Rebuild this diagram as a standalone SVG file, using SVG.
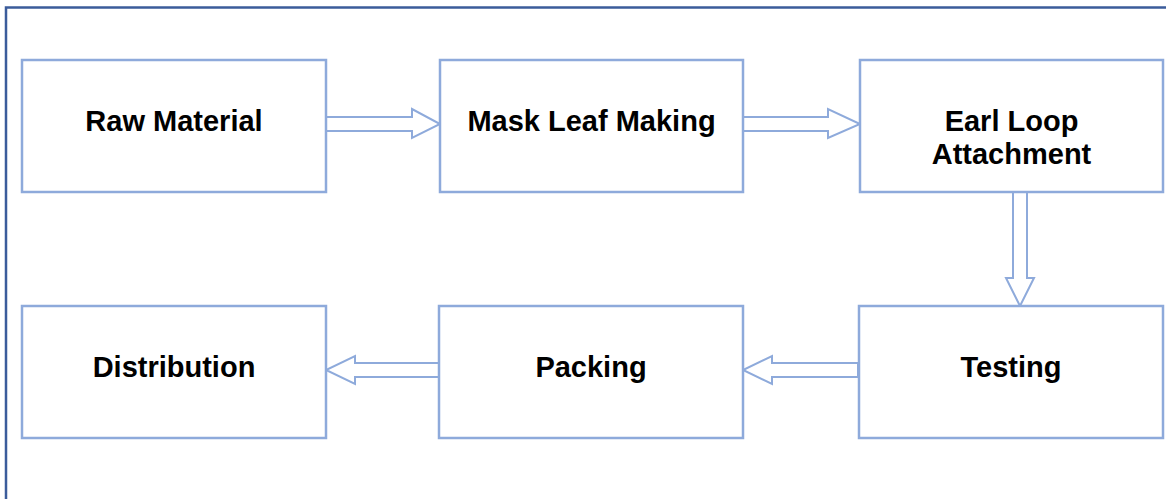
<svg xmlns="http://www.w3.org/2000/svg" width="1166" height="499" viewBox="0 0 1166 499">
  <defs>
    <style>
      .box { fill: #ffffff; stroke: #8eaadb; stroke-width: 2.5; }
      .arrow { fill: #ffffff; stroke: #8eaadb; stroke-width: 2; stroke-linejoin: miter; }
      .label { font-family: "Liberation Sans", Arial, sans-serif; font-weight: bold; font-size: 29px; fill: #000000; text-anchor: middle; }
      .frame { fill: none; stroke: #3b5c9b; stroke-width: 2.5; }
    </style>
  </defs>
  <rect width="1166" height="499" fill="#ffffff"/>
  <path class="frame" d="M6 499 V7.5 H1166"/>

  <g id="connectors">
    <polygon class="arrow" points="326,117 412,117 412,109 440,124 412,138 412,131 326,131"/>
    <polygon class="arrow" points="743,117 828,117 828,109 860,124 828,138 828,131 743,131"/>
    <polygon class="arrow" points="1013,192 1013,278 1006,278 1020,306 1034,278 1027,278 1027,192"/>
    <polygon class="arrow" points="858,363 772,363 772,356 743,370 772,384 772,377 858,377"/>
    <polygon class="arrow" points="439,363 355,363 355,356 326,370 355,384 355,377 439,377"/>
  </g>

  <g id="raw-material">
    <rect class="box" x="22" y="60" width="304" height="132"/>
    <text class="label" x="174" y="131">Raw Material</text>
  </g>
  <g id="mask-leaf-making">
    <rect class="box" x="440" y="60" width="303" height="132"/>
    <text class="label" x="591.5" y="131">Mask Leaf Making</text>
  </g>
  <g id="earl-loop-attachment">
    <rect class="box" x="860" y="60" width="303" height="132"/>
    <text class="label" x="1011.5" y="131">Earl Loop</text>
    <text class="label" x="1011.5" y="164">Attachment</text>
  </g>
  <g id="testing">
    <rect class="box" x="859" y="306" width="304" height="132"/>
    <text class="label" x="1011" y="377">Testing</text>
  </g>
  <g id="packing">
    <rect class="box" x="439" y="306" width="304" height="132"/>
    <text class="label" x="591" y="377">Packing</text>
  </g>
  <g id="distribution">
    <rect class="box" x="22" y="306" width="304" height="132"/>
    <text class="label" x="174" y="377">Distribution</text>
  </g>
</svg>
